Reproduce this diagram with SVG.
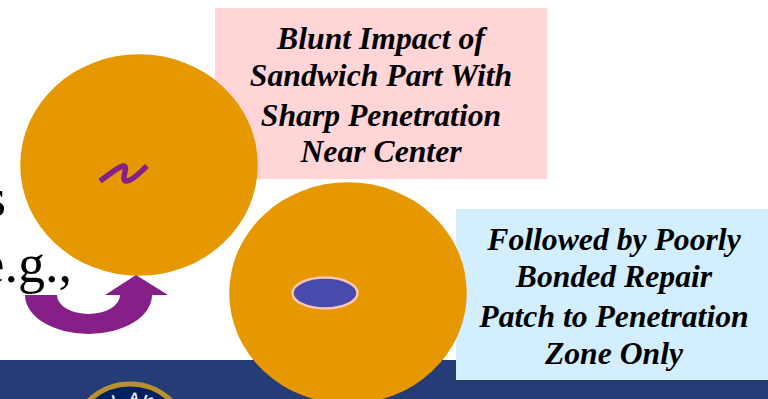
<svg xmlns="http://www.w3.org/2000/svg" width="768" height="399" viewBox="0 0 768 399">
<style>
.c{font-family:"Liberation Serif",serif;font-size:31.7px;font-weight:bold;font-style:italic;text-anchor:middle;fill:#000}
.b{font-family:"Liberation Serif",serif;font-size:54px;fill:#000}
.o{fill:#e69800}
</style>
<defs><path id="sealArc" d="M89 443 A41 41 0 0 1 171 443"/></defs>
<rect width="768" height="399" fill="#fff"/>
<rect y="360" width="768" height="39" fill="#263c77"/>
<g id="seal">
<circle cx="130" cy="443" r="59" fill="#00205f" stroke="#b8912f" stroke-width="5"/>
<text font-family="Liberation Sans,sans-serif" font-size="14" font-weight="bold" fill="#e8edf5" text-anchor="middle" letter-spacing="2"><textPath href="#sealArc" startOffset="50%">AL AKI</textPath></text>
</g>
<text class="b" x="-15" y="216">s</text>
<text class="b" x="-19.500" y="282">e.g.,</text>
<g id="note1">
<rect x="215" y="8" width="332" height="171" fill="#ffd5d8"/>
<text class="c" x="381" y="49">Blunt Impact of</text>
<text class="c" x="381" y="86">Sandwich Part With</text>
<text class="c" x="381" y="126">Sharp Penetration</text>
<text class="c" x="381" y="162">Near Center</text>
</g>
<g id="note2">
<rect x="456" y="209" width="312" height="171" fill="#d3eeff"/>
<text class="c" x="614" y="250">Followed by Poorly</text>
<text class="c" x="614" y="287">Bonded Repair</text>
<text class="c" x="614" y="327">Patch to Penetration</text>
<text class="c" x="614" y="364">Zone Only</text>
</g>
<g id="disc1">
<ellipse class="o" cx="139" cy="165" rx="118.800" ry="110.800"/>
<path d="M100 181 C110 174 118 167 123 166 C130 165 119 182 127 181 C134 180 140 172 147 166" fill="none" stroke="#861f87" stroke-width="5.500"/>
</g>
<g id="disc2">
<ellipse class="o" cx="348" cy="293" rx="118.800" ry="110.800"/>
<ellipse cx="325" cy="293" rx="32.500" ry="15.500" fill="#484bab" stroke="#ffc4b8" stroke-width="2.500"/>
</g>
<g id="connectors">
<path d="M25 295 H57 A31.500 19 0 0 0 120 295 H105 L136 275 L168 295 H152 A63.500 39 0 0 1 25 295 Z" fill="#861f87"/>
</g>
</svg>
